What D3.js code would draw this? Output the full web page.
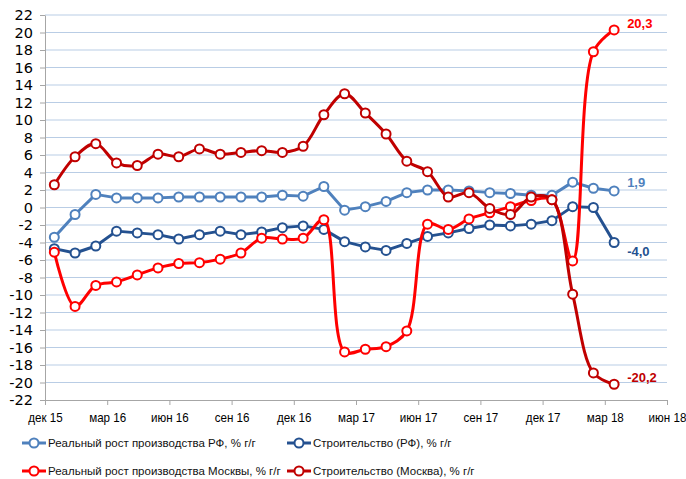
<!DOCTYPE html>
<html>
<head>
<meta charset="utf-8">
<script src="https://cdn.jsdelivr.net/npm/d3@7"></script>
<style>
  body { margin: 0; background: #fff; }
  svg text { fill: #000; }
</style>
</head>
<body>
<div id="chart"></div>
<script>
// месяцы: дек 15 ... мар 18 (28 точек)
const monthIndex = d3.range(28);
const xTickLabels = ["дек 15", "мар 16", "июн 16", "сен 16", "дек 16", "мар 17", "июн 17", "сен 17", "дек 17", "мар 18", "июн 18"];
const yTickValues = d3.range(-22, 23, 2);

const prodRF = [-3.4, -0.8, 1.5, 1.1, 1.1, 1.1, 1.2, 1.2, 1.2, 1.2, 1.2, 1.4, 1.3, 2.4,
  -0.3, 0.1, 0.7, 1.7, 2.0, 2.0, 1.9, 1.7, 1.6, 1.4, 1.4, 2.9, 2.2, 1.9];
const constrRF = [-4.7, -5.2, -4.4, -2.7, -2.9, -3.1, -3.6, -3.1, -2.7, -3.1, -2.8, -2.3, -2.1, -2.5,
  -3.9, -4.5, -4.9, -4.1, -3.3, -2.9, -2.4, -2.0, -2.1, -1.9, -1.5, 0.1, 0.0, -4.0];
const prodMsk = [-5.1, -11.3, -8.9, -8.5, -7.7, -6.9, -6.4, -6.3, -5.9, -5.2, -3.5, -3.6, -3.5, -1.4,
  -16.5, -16.2, -15.9, -14.1, -1.9, -2.5, -1.3, -0.6, 0.1, 0.8, 0.9, -6.1, 17.8, 20.3];
const constrMsk = [2.6, 5.8, 7.3, 5.1, 4.8, 6.1, 5.8, 6.7, 6.1, 6.3, 6.5, 6.3, 7.0, 10.6,
  13.0, 10.8, 8.4, 5.3, 4.1, 1.2, 1.7, -0.1, -0.8, 1.2, 0.9, -9.9, -18.9, -20.2];

const seriesNames = [
  "Реальный рост производства РФ, % г/г",
  "Строительство (РФ), % г/г",
  "Реальный рост производства Москвы, % г/г",
  "Строительство (Москва), % г/г"
];

(function () {
  const width = 686, height = 479;
  const colors = ["#4F81BD", "#245190", "#FF0000", "#C00000"];
  const smooth = [false, false, true, true];
  const labelDy = [-8, 9, -6, -7];
  const pointOffset = 0.45; // точки стоят чуть правее начала месяца

  const svg = d3.select("#chart").append("svg")
    .attr("width", width)
    .attr("height", height);

  const x = d3.scaleLinear().domain([0, 30]).range([45, 667]);
  const y = d3.scaleLinear().domain([-22, 22]).range([400, 15]);

  // сетка
  svg.append("g")
    .selectAll("line")
    .data(yTickValues.filter(d => d > -22))
    .join("line")
    .attr("x1", x(0)).attr("x2", x(30))
    .attr("y1", d => y(d)).attr("y2", d => y(d))
    .attr("stroke", "#B9CDE5")
    .attr("stroke-width", 1);

  // ось Y
  const yAxis = svg.append("g")
    .attr("transform", `translate(${x(0)},0)`)
    .call(d3.axisLeft(y).tickValues(yTickValues).tickFormat(d => String(d))
      .tickSize(5).tickPadding(7).tickSizeOuter(0));
  yAxis.select(".domain").attr("stroke", "#A6A6A6");
  yAxis.selectAll(".tick line").attr("stroke", "#A6A6A6");
  yAxis.selectAll("text")
    .style("font-family", "'DejaVu Sans', sans-serif")
    .style("font-size", "14.5px")
    .attr("fill", "#000");

  // ось X
  const xAxis = svg.append("g")
    .attr("transform", `translate(0,${y(-22)})`)
    .call(d3.axisBottom(x).tickValues(d3.range(0, 31, 3))
      .tickFormat((d, i) => xTickLabels[i])
      .tickSize(5).tickPadding(8).tickSizeOuter(0));
  xAxis.select(".domain").attr("stroke", "#A6A6A6");
  xAxis.selectAll(".tick line").attr("stroke", "#A6A6A6");
  xAxis.selectAll("text")
    .attr("transform", "scale(0.93,1)")
    .style("font-family", "'Liberation Sans', sans-serif")
    .style("font-size", "12.5px")
    .attr("fill", "#000");

  const allSeries = [prodRF, constrRF, prodMsk, constrMsk];

  allSeries.forEach((vals, s) => {
    const pts = monthIndex.map(i => ({ m: i + pointOffset, v: vals[i] }));
    const line = d3.line()
      .x(d => x(d.m))
      .y(d => y(d.v))
      .curve(smooth[s] ? d3.curveCatmullRom.alpha(0.5) : d3.curveLinear);

    const g = svg.append("g");
    g.append("path")
      .datum(pts)
      .attr("d", line)
      .attr("fill", "none")
      .attr("stroke", colors[s])
      .attr("stroke-width", 3)
      .attr("stroke-linejoin", "round");

    g.selectAll("circle")
      .data(pts)
      .join("circle")
      .attr("cx", d => x(d.m))
      .attr("cy", d => y(d.v))
      .attr("r", 4.5)
      .attr("fill", "#fff")
      .attr("stroke", colors[s])
      .attr("stroke-width", 2);

    const last = pts[pts.length - 1];
    svg.append("text")
      .attr("x", x(last.m) + 13)
      .attr("y", y(last.v) + labelDy[s])
      .attr("dy", "0.35em")
      .style("font-family", "'Liberation Sans', sans-serif")
      .style("font-size", "13px")
      .style("font-weight", "bold")
      .style("fill", colors[s])
      .text(d3.format(".1f")(last.v).replace(".", ",").replace("\u2212", "-"));
  });

  // легенда
  const legendX = [22, 287];
  const legendY = [443, 471];
  seriesNames.forEach((name, i) => {
    const lx = legendX[i % 2], ly = legendY[Math.floor(i / 2)];
    const g = svg.append("g").attr("transform", `translate(${lx},${ly})`);
    g.append("line")
      .attr("x1", 0).attr("x2", 24)
      .attr("stroke", colors[i]).attr("stroke-width", 3);
    g.append("circle")
      .attr("cx", 12).attr("r", 4.5)
      .attr("fill", "#fff").attr("stroke", colors[i]).attr("stroke-width", 2);
    g.append("text")
      .attr("x", 26)
      .attr("dy", "0.35em")
      .style("font-family", "'Liberation Sans', sans-serif")
      .style("font-size", "11.5px")
      .style("fill", "#111")
      .text(name);
  });
})();
</script>
</body>
</html>
